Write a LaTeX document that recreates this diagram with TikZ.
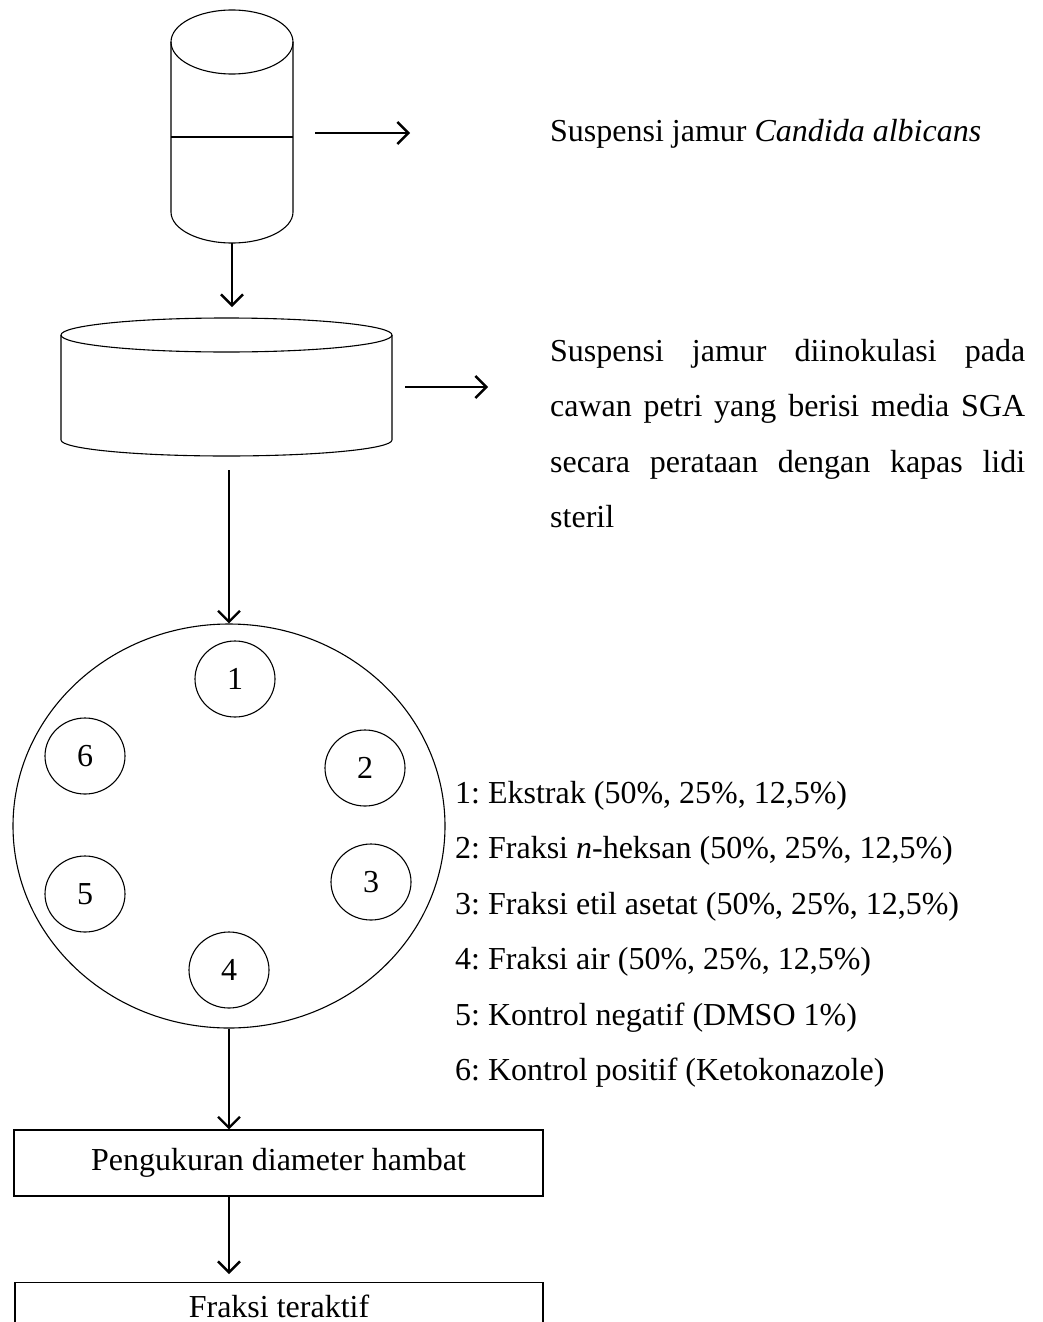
\documentclass[tikz,border=0pt]{standalone}
\usepackage{fontspec}
\setmainfont{Liberation Serif}
\usetikzlibrary{arrows.meta,shapes.geometric}
\frenchspacing
\begin{document}
\begin{tikzpicture}[x=1pt,y=-1pt,
  thinline/.style={line width=1.1pt},
  flow/.style={line width=2.4pt,-{Straight Barb[length=11pt,width=22pt,line width=2.4pt]}},
  txt/.style={anchor=base west,inner sep=0pt,font=\fontsize{32}{38}\selectfont},
  well/.style={ellipse,draw,line width=1.1pt,minimum width=80pt,minimum height=76pt,inner sep=0pt,font=\fontsize{32}{38}\selectfont},
  stepbox/.style={draw,line width=1.1pt,rectangle,inner sep=0pt,font=\fontsize{32}{38}\selectfont}]
\useasboundingbox (0,0) rectangle (1042,1322);
\clip (0,0) rectangle (1042,1322);

% cylinder (suspension)
\draw[thinline] (232,42) ellipse [x radius=61pt, y radius=32pt];
\draw[thinline] (171,42) -- (171,212) arc[start angle=180, end angle=360, x radius=61pt, y radius=31pt] -- (293,42);
\draw[line width=2pt] (171,137) -- (293,137);
\coordinate (cylR) at (315,133);
\coordinate (cylRend) at (410,133);
\coordinate (cylB) at (232,243);
\coordinate (dishT) at (232,307);

% petri dish
\draw[thinline] (226.5,335) ellipse [x radius=165.5pt, y radius=17pt];
\draw[thinline] (61,335) -- (61,440) arc[start angle=180, end angle=360, x radius=165.5pt, y radius=16pt] -- (392,335);
\coordinate (dishR) at (405,387);
\coordinate (dishRend) at (488,387);
\coordinate (dishB) at (229,470);

% plate with wells
\node[ellipse,draw,thinline,minimum width=432pt,minimum height=404pt,inner sep=0pt] (plate) at (229,826) {};
\node[well] (w1) at (235,679) {1};
\node[well] (w2) at (365,768) {2};
\node[well] (w3) at (371,882) {3};
\node[well] (w4) at (229,970) {4};
\node[well] (w5) at (85,894) {5};
\node[well] (w6) at (85,756) {6};

% boxes
\node[stepbox,minimum width=529pt,minimum height=66pt] (meas) at (278.5,1163) {Pengukuran diameter hambat};
\node[stepbox,minimum width=528pt,minimum height=80pt,anchor=north] (frak) at (279,1282) {};
\node[anchor=base,inner sep=0pt,font=\fontsize{32}{38}\selectfont] (frakt) at (279,1317) {Fraksi teraktif};

% connectors
\draw[flow] (cylR) -- (cylRend);
\draw[flow] (cylB) -- (dishT);
\draw[flow] (dishR) -- (dishRend);
\draw[flow] (dishB) -- (plate.north);
\draw[flow] (plate.south) -- (plate.south |- meas.north);
\draw[flow,shorten >=8pt] (meas.south -| plate.south) -- (plate.south |- frak.north);

% texts
\node[txt] (t1) at (550,141) {Suspensi jamur \textit{Candida albicans}};
\node[txt] (p1) at (550,361) {\makebox[475pt][s]{Suspensi jamur diinokulasi pada}};
\node[txt] (p2) at (550,416.5) {\makebox[475pt][s]{cawan petri yang berisi media SGA}};
\node[txt] (p3) at (550,472) {\makebox[475pt][s]{secara perataan dengan kapas lidi}};
\node[txt] (p4) at (550,527.5) {steril};

\node[txt] (l1) at (455,803) {1: Ekstrak (50\%, 25\%, 12,5\%)};
\node[txt] (l2) at (455,858.5) {2: Fraksi \textit{n}-heksan (50\%, 25\%, 12,5\%)};
\node[txt] (l3) at (455,914) {3: Fraksi etil asetat (50\%, 25\%, 12,5\%)};
\node[txt] (l4) at (455,969.5) {4: Fraksi air (50\%, 25\%, 12,5\%)};
\node[txt] (l5) at (455,1025) {5: Kontrol negatif (DMSO 1\%)};
\node[txt] (l6) at (455,1080.5) {6: Kontrol positif (Ketokonazole)};
\end{tikzpicture}
\end{document}
